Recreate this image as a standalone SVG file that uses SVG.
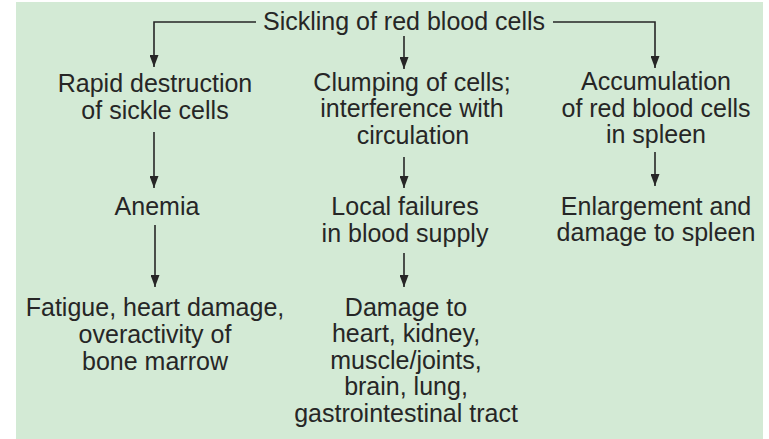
<svg xmlns="http://www.w3.org/2000/svg" width="769" height="439" viewBox="0 0 769 439">
<style>
text{font-family:"Liberation Sans",Arial,sans-serif;font-size:25px;fill:#262626;text-anchor:middle}
.c{stroke:#262626;stroke-width:1.6;fill:none}
</style>
<defs>
<marker id="ah" markerUnits="userSpaceOnUse" markerWidth="12" markerHeight="9" refX="12" refY="4.5" orient="auto" viewBox="0 0 12 9">
<path d="M0,0 L12,4.5 L0,9 z" fill="#262626"/>
</marker>
</defs>
<rect x="0" y="0" width="769" height="439" fill="#ffffff"/>
<rect x="16" y="2" width="747" height="437" fill="#d3ead5"/>
<g id="connectors">
<path class="c" d="M256,22 H154 V67" marker-end="url(#ah)"/>
<path class="c" d="M553,22 H655 V68" marker-end="url(#ah)"/>
<path class="c" d="M404,36 V69" marker-end="url(#ah)"/>
<path class="c" d="M154,132 V188" marker-end="url(#ah)"/>
<path class="c" d="M155,225 V287" marker-end="url(#ah)"/>
<path class="c" d="M404,157 V188" marker-end="url(#ah)"/>
<path class="c" d="M404,253 V287" marker-end="url(#ah)"/>
<path class="c" d="M655,152 V186" marker-end="url(#ah)"/>
</g>
<g id="n-sickling"><text x="404" y="30">Sickling of red blood cells</text></g>
<g id="n-rapid"><text x="155" y="92">Rapid destruction</text><text x="155" y="118.5">of sickle cells</text></g>
<g id="n-clumping"><text x="412" y="91">Clumping of cells;</text><text x="412" y="117">interference with</text><text x="413" y="143.5">circulation</text></g>
<g id="n-accum"><text x="656" y="90">Accumulation</text><text x="656" y="116.5">of red blood cells</text><text x="656" y="143">in spleen</text></g>
<g id="n-anemia"><text x="157" y="215">Anemia</text></g>
<g id="n-local"><text x="405" y="215">Local failures</text><text x="405" y="241.5">in blood supply</text></g>
<g id="n-enlarge"><text x="656" y="215">Enlargement and</text><text x="656" y="240.5">damage to spleen</text></g>
<g id="n-fatigue"><text x="155" y="316">Fatigue, heart damage,</text><text x="155" y="343">overactivity of</text><text x="155" y="370">bone marrow</text></g>
<g id="n-damage"><text x="406" y="315.5">Damage to</text><text x="406" y="342">heart, kidney,</text><text x="406" y="368.5">muscle/joints,</text><text x="406" y="395">brain, lung,</text><text x="406" y="421.5">gastrointestinal tract</text></g>
</svg>
